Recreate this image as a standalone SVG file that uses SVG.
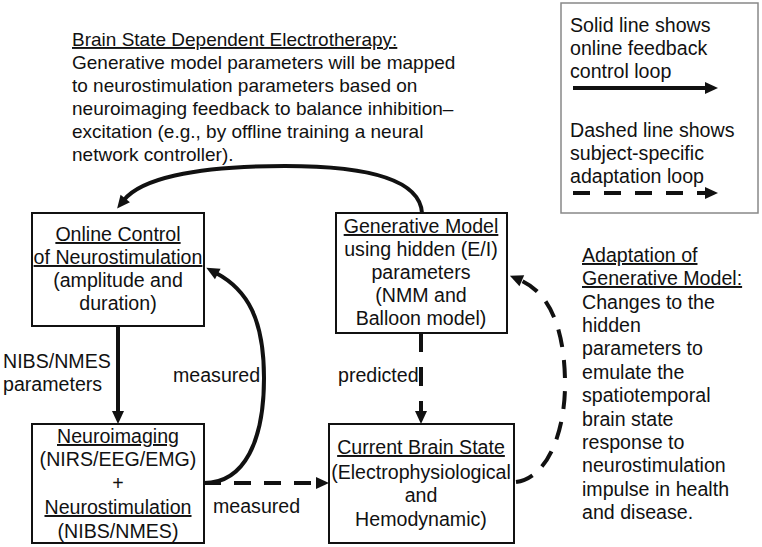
<svg xmlns="http://www.w3.org/2000/svg" width="762" height="547" viewBox="0 0 762 547">
<style>
text{font-family:"Liberation Sans",Arial,sans-serif;font-size:19.6px;fill:#111}
.top text{font-size:19px}
.c{text-anchor:middle}
.u{text-decoration:underline}
.box{fill:#fff;stroke:#111;stroke-width:2}
.ln{fill:none;stroke:#111;stroke-width:4}
.dash{stroke-dasharray:18 13}
</style>
<defs>
<marker id="ah" markerUnits="userSpaceOnUse" markerWidth="14" markerHeight="12" refX="2" refY="6" orient="auto" overflow="visible">
<path d="M0,0 L13,6 L0,12 z" fill="#111"/>
</marker>
</defs>
<rect width="762" height="547" fill="#fff"/>

<g id="note-top" class="top">
<text x="72" y="46" class="u">Brain State Dependent Electrotherapy:</text>
<text x="72" y="69">Generative model parameters will be mapped</text>
<text x="72" y="92">to neurostimulation parameters based on</text>
<text x="72" y="115">neuroimaging feedback to balance inhibition–</text>
<text x="72" y="138">excitation (e.g., by offline training a neural</text>
<text x="72" y="161">network controller).</text>
</g>

<g id="legend">
<rect x="561" y="3" width="197" height="210" fill="#fff" stroke="#888" stroke-width="1.5"/>
<text x="570" y="32">Solid line shows</text>
<text x="570" y="55">online feedback</text>
<text x="570" y="78">control loop</text>
<path class="ln" d="M573,88 L707,88" marker-end="url(#ah)"/>
<text x="570" y="137">Dashed line shows</text>
<text x="570" y="160">subject-specific</text>
<text x="570" y="183">adaptation loop</text>
<path class="ln" d="M573,193 L707,193" style="stroke-dasharray:17 14" marker-end="url(#ah)"/>
</g>

<g id="online-control">
<rect class="box" x="32" y="213" width="172" height="113"/>
<text x="118" y="241" class="c u">Online Control</text>
<text x="118" y="264" class="c u">of Neurostimulation</text>
<text x="118" y="287" class="c">(amplitude and</text>
<text x="118" y="310" class="c">duration)</text>
</g>

<g id="generative-model">
<rect class="box" x="336" y="213" width="171" height="120"/>
<text x="421" y="233" class="c u">Generative Model</text>
<text x="421" y="256" class="c">using hidden (E/I)</text>
<text x="421" y="279" class="c">parameters</text>
<text x="421" y="302" class="c">(NMM and</text>
<text x="421" y="325" class="c">Balloon model)</text>
</g>

<g id="neuroimaging">
<rect class="box" x="32" y="424" width="172" height="119"/>
<text x="118" y="443" class="c u">Neuroimaging</text>
<text x="118" y="466" class="c">(NIRS/EEG/EMG)</text>
<text x="118" y="490" class="c">+</text>
<text x="118" y="514" class="c u">Neurostimulation</text>
<text x="118" y="538" class="c">(NIBS/NMES)</text>
</g>

<g id="current-brain-state">
<rect class="box" x="329" y="424" width="185" height="119"/>
<text x="421" y="454" class="c u">Current Brain State</text>
<text x="421" y="479" class="c">(Electrophysiological</text>
<text x="421" y="502" class="c">and</text>
<text x="421" y="526" class="c">Hemodynamic)</text>
</g>

<g id="note-adaptation">
<text x="582" y="262" class="u">Adaptation of</text>
<text x="582" y="285" class="u">Generative Model:</text>
<text x="582" y="309">Changes to the</text>
<text x="582" y="332">hidden</text>
<text x="582" y="355">parameters to</text>
<text x="582" y="379">emulate the</text>
<text x="582" y="402">spatiotemporal</text>
<text x="582" y="426">brain state</text>
<text x="582" y="449">response to</text>
<text x="582" y="472">neurostimulation</text>
<text x="582" y="496">impulse in health</text>
<text x="582" y="519">and disease.</text>
</g>

<g id="connectors">
<path class="ln" d="M422,213 C420,180 370,166 285,166 C190,166 140,180 124,200" marker-end="url(#ah)"/>
<path class="ln" d="M118,326 L118,413" marker-end="url(#ah)"/>
<path class="ln" d="M204,483 C245,483 264,440 264,378 C264,320 248,290 216,273" marker-end="url(#ah)"/>
<path class="ln" d="M421,333 L421,413" style="stroke-dasharray:19 15" marker-end="url(#ah)"/>
<path class="ln" d="M204,483 L318,483" style="stroke-dasharray:17 13" marker-end="url(#ah)"/>
<path class="ln dash" d="M516,482 C548,478 566,430 565,380 C564,325 548,292 520,280" marker-end="url(#ah)"/>
<text x="3" y="368">NIBS/NMES</text>
<text x="3" y="391">parameters</text>
<text x="173" y="382">measured</text>
<text x="338" y="382">predicted</text>
<text x="213" y="513">measured</text>
</g>
</svg>
